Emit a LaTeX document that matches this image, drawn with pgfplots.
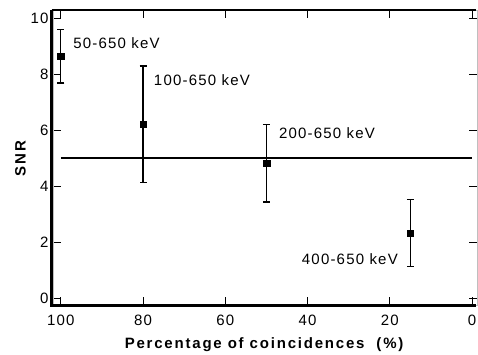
\documentclass[border=0pt]{standalone}
\usepackage{pgfplots}
\pgfplotsset{compat=1.18}
\usepackage{fontspec}
\setmainfont{Liberation Sans}
\newfontfamily\annfont[LetterSpace=8]{Liberation Sans}
\newfontfamily\labfont[LetterSpace=12]{Liberation Sans}
\begin{document}
\begin{tikzpicture}[x=1pt,y=1pt]
\begin{axis}[
  at={(53pt,49pt)}, anchor=south west,
  scale only axis, width=424pt, height=295pt,
  xmin=-1.2, xmax=101.9, ymin=-0.25, ymax=10.29,
  x dir=reverse,
  axis line style={gray!50, line width=0.8pt},
  xtick={0,20,...,100}, ytick={0,2,...,10},
  tick align=inside, major tick length=8pt,
  tick style={black, line width=0.9pt},
  /pgf/number format/assume math mode=true,
  ticklabel style={font=\annfont\fontsize{15}{17}\selectfont},
  xticklabel style={yshift=-6pt},
  yticklabel style={xshift=-1pt},
  xlabel={\textbf{Percentage of coincidences\ \ (\%)}},
  ylabel={\textbf{SNR}},
  label style={font=\labfont\fontsize{15}{17}\selectfont},
  xlabel style={yshift=-6pt},
  ylabel style={yshift=-2pt},
  clip=false,
]
\addplot[black, line width=1.2pt] coordinates {(100,5) (0,5)};
\addplot[only marks, mark=square*, mark size=3.3pt, black,
  error bars/.cd, y dir=both, y explicit,
  error bar style={line width=1.2pt},
  error mark options={rotate=90, mark size=3.5pt, line width=1.2pt}]
  coordinates {
  (100,8.64) +- (0,0.96)
  (80,6.21) +- (0,2.08)
  (50,4.82) +- (0,1.39)
  (15,2.32) +- (0,1.2)
};
\node[anchor=west, font=\annfont\fontsize{15}{17}\selectfont] at (axis cs:97.8,9.1) {50-650 keV};
\node[anchor=west, font=\annfont\fontsize{15}{17}\selectfont] at (axis cs:78.2,7.8) {100-650 keV};
\node[anchor=west, font=\annfont\fontsize{15}{17}\selectfont] at (axis cs:47.8,5.9) {200-650 keV};
\node[anchor=east, font=\annfont\fontsize{15}{17}\selectfont] at (axis cs:17.2,1.4) {400-650 keV};
\end{axis}
\draw[black, line width=3pt] (51.5pt,344pt) -- (51.5pt,49pt) -- (476pt,49pt);
\draw[black, line width=2.5pt] (51.5pt,344pt) -- (476pt,344pt);
\pgfresetboundingbox
\path[use as bounding box] (0,0) rectangle (478pt,354pt);
\end{tikzpicture}
\end{document}
